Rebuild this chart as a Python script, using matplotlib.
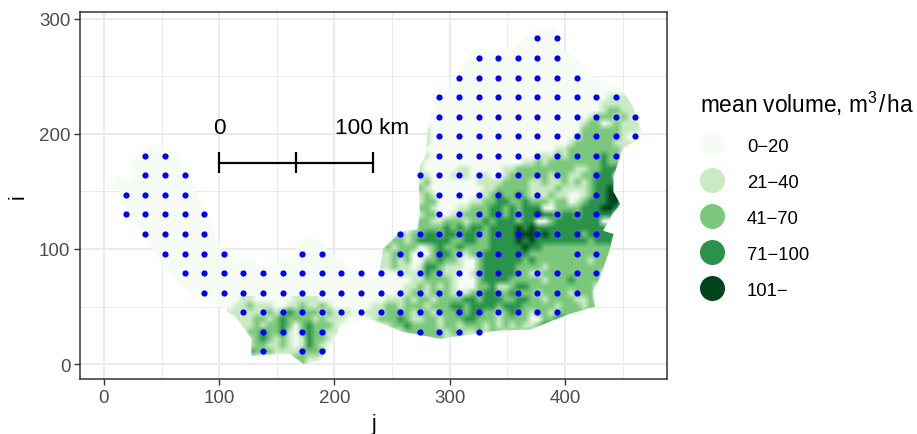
import numpy as np
import matplotlib
matplotlib.use("Agg")
import matplotlib.pyplot as plt
from matplotlib.colors import to_rgb
from matplotlib.patches import Polygon
from matplotlib.lines import Line2D

plt.rcParams['font.family'] = ['Liberation Sans', 'DejaVu Sans']
plt.rcParams['mathtext.fontset'] = 'custom'
plt.rcParams['mathtext.rm'] = 'Liberation Sans'
plt.rcParams['mathtext.default'] = 'regular'

CLASS_LABELS = ["0\u221220", "21\u221240", "41\u221270", "71\u2212100", "101\u2212"]
CLASS_COLORS = ["#F6FCF4", "#C9EAC3", "#7BC87C", "#2A924A", "#00441B"]

OUTLINE = [(0,155),(12,165),(25,158),(24,177),(44,191),(62,184),(75,164),(83,143),(95,115),(102,101),
           (118,92),(129,91),(141,82),(155,92),(164,93),(168,107),(179,111),(187,107),(199,93),(223,80),
           (238,72),(242,100),(257,115),(272,117),(274,132),(273,158),(274,172),(279,181),(281,204),(287,230),
           (300,239),(318,271),(337,272),(355,274),(372,290),(393,293),(398,274),(413,263),(422,252),(450,237),
           (459,224),(465,207),(467,198),(450,187),(442,163),(442,150),(448,139),(441,130),(433,116),(442,113),
           (439,100),(430,74),(424,63),(426,50),(402,43),(370,30),(341,29),(292,22),(259,28),(231,39),
           (224,39),(205,33),(199,19),(187,3),(173,0),(161,9),(128,7),(128,22),(114,41),(101,50),
           (72,63),(55,81),(42,100),(16,141),(14,150)]

# volume class, cell by cell (top row first)
EAST_J0, EAST_I0, CELL = 229.0, 243.0, 17/3
EAST_RASTER = [
 "", "",
 "0000000000 0000000000 0000000000 0000000111 1000",
 "0000000000 0000000000 0000000000 0000001111 1000",
 "0000000000 0000000000 0000000000 0000001221 1100",
 "0000000000 0000000000 0000000000 0000122212 1000",
 "0000000000 0000000000 0000000000 0001220121 1100",
 "0000000001 0000000000 0000000000 0002222221 1100",
 "0000000001 0000000000 0000000000 0012222221 0000",
 "0000000011 0000000000 0000000000 0122222211 1000",
 "0000000010 0000000000 0000000001 1222222221 0000",
 "0000000011 0000000000 0000001112 1222223220 0000",
 "0000000010 0000000000 0000112122 2222223220 0000",
 "0000000010 0000110000 0112222222 2211223330 0000",
 "0000000011 0001110110 0122222212 2112233300 0000",
 "0000000012 0000000111 1222211211 2121233330 0000",
 "0000000021 0000000011 2222211112 1111233430 0000",
 "0000000012 1000000112 3223211121 1001233440 0000",
 "0000000012 2000001122 3322322212 2012333440 0000",
 "0000000022 1000112223 3232333002 2223334430 0000",
 "0000000012 2001122223 3232334332 3323333300 0000",
 "0000000022 1122212232 3332330023 3333330000 0000",
 "0000000122 2232323323 3334343333 3333333300 0000",
 "0000121223 3233233223 3334443433 3332333340 0000",
 "0001221233 3332233223 3334343333 3333233300 0000",
 "0012122201 2322322223 3333433222 2222222200 0000",
 "0111222000 2332112233 3333322222 2222222200 0000",
 "1111212002 2322100233 3333232222 2222122200 0000",
 "0111211013 3211100233 3332222122 2222222000 0000",
 "0000011113 2211001233 3332211222 2222220000 0000",
 "0000000112 2221000233 3322222122 2322220000 0000",
 "0000001121 2121000223 1123322222 2222200000 0000",
 "0000011221 2221112233 2232221222 2122200000 0000",
 "0001112122 1222233233 3223322122 2211200000 0000",
 "0112212221 2223323333 2333222221 2221220000 0000",
 "1112222122 1222323322 1232212212 2222200000 0000",
 "0122232112 2122233222 1222200223 3220000000 0000",
 "0001223222 2122122212 1212112332 0000000000 0000",
 "0000012222 2212211212 2121220000 0000000000 0000",
 "0000000022 2211211121 1100000000 0000000000 0000",
]
CENTRAL_J0, CENTRAL_I0 = 109.67, 56.3
CENTRAL_RASTER = [
 "0011000000 1111000000 0",
 "0112111001 1211210000 0",
 "1111112123 2222121110 0",
 "0111221232 2221211100 0",
 "0011212232 0232221000 0",
 "0002232231 0232211000 0",
 "0001232121 0132210000 0",
 "0001221121 0132100000 0",
 "0003222111 1222200000 0",
 "0000000001 2211000000 0",
 "0000000000 0200000000 0",
]

PLOT_ROWS = {
    283: [376,393],
    266: [325,342,359,376,393],
    249: [308,325,342,359,376,393,410],
    232: [291,308,325,342,359,376,393,410,427,444],
    215: [291,308,325,342,359,376,393,410,427,444,461],
    198: [291,308,325,342,359,376,393,410,427,444,461],
    181: [36,53,291,308,325,342,359,376,393,410,427,444],
    164: [36,53,70,274,291,308,325,342,359,376,393,427],
    147: [19,36,53,70,291,308,325,342,359,376,427],
    130: [19,36,53,70,87,291,308,325,342,359,376,393,410,427],
    113: [36,53,70,87,257,274,291,308,325,342,359,376,393,410,427],
    96:  [53,70,87,104,172,189,257,274,291,308,325,342,359,410,427],
    79:  [70,87,104,121,138,155,172,189,206,223,240,257,274,291,308,325,342,359,376,393,410,427],
    62:  [87,104,121,138,155,172,189,206,223,240,257,274,291,308,325,342,359,376,393,410],
    45:  [121,138,155,172,189,206,223,240,257,274,291,308,325,342,359,376,393],
    28:  [138,155,172,189,274,291,308,325],
    11:  [138,172,189],
}

SCALE_J = [100, 167, 233]
SCALE_I = 175
SCALE_TICK_I = [166, 184.5]
SCALE_TEXT = [(100, "0"), (233, "100 km")]

XLIM, YLIM = (-20.8, 488.5), (-13, 306)

fig = plt.figure(figsize=(9.17, 4.35), dpi=100)
ax = fig.add_axes([80/917, (435-380)/435, (667-80)/917, (380-13)/435])
ax.set_xticks([0,100,200,300,400])
ax.set_yticks([0,100,200,300])
ax.set_xticks([50,150,250,350,450], minor=True)
ax.set_yticks([50,150,250], minor=True)
ax.grid(which='major', color='#EBEBEB', lw=1.5)
ax.grid(which='minor', color='#EBEBEB', lw=0.75)
ax.set_axisbelow(True)
ax.tick_params(which='major', colors='#333333', labelcolor='#4D4D4D', labelsize=13.5, length=4.5, width=1, pad=2.5)
ax.tick_params(which='minor', length=0)
for s in ax.spines.values():
    s.set_color('#333333'); s.set_linewidth(1.1)
ax.set_xlabel('j', fontsize=15.5, labelpad=5)
ax.set_ylabel('i', fontsize=15.5, labelpad=7)

base = Polygon(OUTLINE, closed=True, fc=CLASS_COLORS[0], ec='none', zorder=1.5)
ax.add_patch(base)

def draw_raster(rows, j0, i0):
    cells = [r.replace(" ", "") for r in rows]
    w = max(len(c) for c in cells)
    codes = np.array([[int(ch) for ch in c.ljust(w, "0")] for c in cells])
    rgb = np.array([to_rgb(c) for c in CLASS_COLORS])[codes]
    im = ax.imshow(rgb, extent=(j0-CELL/2, j0+CELL*(w-0.5), i0-CELL*(len(cells)-0.5), i0+CELL/2),
                   aspect='auto', interpolation='bilinear', zorder=1.6)
    im.set_clip_path(base)

draw_raster(EAST_RASTER, EAST_J0, EAST_I0)
draw_raster(CENTRAL_RASTER, CENTRAL_J0, CENTRAL_I0)
ax.set_xlim(*XLIM)
ax.set_ylim(*YLIM)

for i_val, js in PLOT_ROWS.items():
    ax.scatter(js, [i_val]*len(js), s=20, c='#0000FF', linewidths=0, zorder=3)

ax.plot([SCALE_J[0], SCALE_J[-1]], [SCALE_I, SCALE_I], color='k', lw=1.6, zorder=4, solid_capstyle='butt')
for j_val in SCALE_J:
    ax.plot([j_val, j_val], SCALE_TICK_I, color='k', lw=1.6, zorder=4, solid_capstyle='butt')
for j_val, t in SCALE_TEXT:
    ax.text(j_val, 205.5, t, ha='center', va='center', fontsize=16.2, color='k', zorder=4)

handles = [Line2D([], [], ls='none', marker='o', ms=18, mfc=c, mec='none') for c in CLASS_COLORS]
leg = fig.legend(handles, CLASS_LABELS, loc='upper left', bbox_to_anchor=(696/917, 1-86/435),
                 bbox_transform=fig.transFigure, frameon=False, fontsize=13.3,
                 title='mean volume, m$^{3}$\u200a/\u200aha', title_fontsize=16.3, alignment='left',
                 labelspacing=1.03, handlelength=1.35, handletextpad=1.2, borderpad=0.2, borderaxespad=0)
leg._legend_box.sep = 15
fig.savefig('out.png', dpi=100)
